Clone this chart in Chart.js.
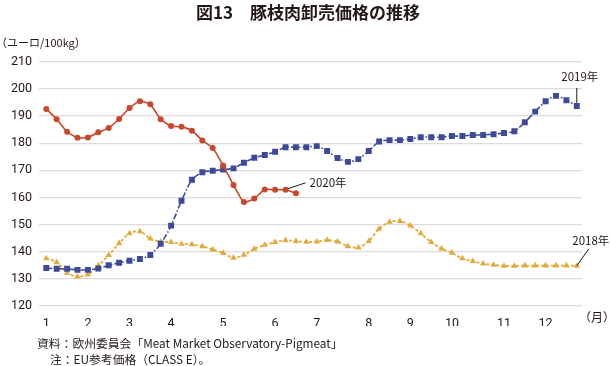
<!DOCTYPE html>
<html><head><meta charset="utf-8">
<script src="https://cdn.jsdelivr.net/npm/chart.js@4/dist/chart.umd.min.js"></script>
<style>
html,body{margin:0;padding:0;background:#fff;}
#wrap{position:relative;width:610px;height:366px;overflow:hidden;font-family:"Noto Sans CJK JP","Noto Sans",sans-serif;color:#231815;}
#c{position:absolute;left:0;top:0;}
.t{position:absolute;white-space:nowrap;}
#title{left:3px;width:610px;top:0px;text-align:center;font-size:17px;font-weight:bold;line-height:24px;}
#unit{left:-4px;top:33px;font-size:11px;line-height:18px;}
#month{left:579px;top:308px;font-size:12px;line-height:18px;}
#note1{left:37px;top:334px;font-size:11.8px;line-height:17px;}
#note2{left:50px;top:350px;font-size:11.8px;line-height:17px;}
</style></head>
<body><div id="wrap">
<canvas id="c" width="610" height="366"></canvas>
<div class="t" id="title">図13　豚枝肉卸売価格の推移</div>
<div class="t" id="unit">（ユーロ/100kg）</div>
<div class="t" id="month">（月）</div>
<div class="t" id="note1">資料：欧州委員会「Meat Market Observatory-Pigmeat」</div>
<div class="t" id="note2">注：EU参考価格（CLASS E）。</div>
</div>
<script>
// weekly prices (EUR/100kg), index 0 = week 1
const series2020 = [192.6,188.8,184.2,182.0,182.1,184.0,185.6,188.9,192.9,195.4,194.3,188.8,186.3,186.0,184.6,181.0,178.2,171.8,164.6,158.3,159.6,162.9,162.8,162.8,161.5];
const series2019 = [134.0,133.7,133.7,133.3,133.3,133.8,135.0,135.9,136.7,137.3,138.8,142.9,149.6,158.8,166.5,169.3,169.8,170.3,170.7,172.8,174.6,175.6,176.8,178.5,178.5,178.5,178.9,177.1,174.5,173.1,174.1,177.1,180.6,181.1,181.1,181.5,182.2,182.2,182.2,182.6,182.6,183.0,183.0,183.3,183.7,184.4,187.7,191.6,195.4,197.4,195.8,193.7];
const series2018 = [137.5,136.1,132.2,130.8,131.6,134.9,138.7,143.1,146.7,147.5,144.8,143.7,143.5,142.9,142.7,142.0,140.8,139.5,137.7,138.8,141.0,142.5,143.5,144.2,143.9,143.6,143.7,144.3,143.7,142.0,141.5,143.9,148.4,151.0,151.3,149.6,146.7,143.5,141.1,139.6,137.5,136.5,135.6,135.1,134.8,134.8,134.9,134.9,134.9,134.9,134.9,134.8];
const monthTickIdx = [0,4,8,12,17,22,26,31,35,39,44,48];
const monthLabels = ['1','2','3','4','5','6','7','8','9','10','11','12'];
const yTicks = [120,130,140,150,160,170,180,190,200,210];
const seriesNames = ['2020年','2019年','2018年'];

const RED='#C9472B', BLUE='#3D4A99', GOLD='#E2A93B';
const toXY = arr => arr.map((v,i)=>({x:i,y:v}));

const annot = {
  id:'annot',
  afterDatasetsDraw(chart){
    const {ctx, scales:{x,y}} = chart;
    ctx.save();
    ctx.strokeStyle='#231815'; ctx.lineWidth=1; ctx.fillStyle='#231815';
    ctx.font='11.5px "Noto Sans CJK JP", sans-serif';
    ctx.textBaseline='middle';
    // 2020
    let i=23, px=x.getPixelForValue(i), py=y.getPixelForValue(series2020[i]);
    ctx.beginPath(); ctx.moveTo(px+2,py-1); ctx.lineTo(px+20,py-7); ctx.stroke();
    ctx.textAlign='left'; ctx.fillText(seriesNames[0], px+24, py-7);
    // 2019
    i=series2019.length-1; px=x.getPixelForValue(i); py=y.getPixelForValue(series2019[i]);
    ctx.beginPath(); ctx.moveTo(px,py-3); ctx.lineTo(px,py-18); ctx.stroke();
    ctx.textAlign='center'; ctx.fillText(seriesNames[1], px+3, py-29);
    // 2018
    i=series2018.length-1; px=x.getPixelForValue(i); py=y.getPixelForValue(series2018[i]);
    ctx.beginPath(); ctx.moveTo(px,py); ctx.lineTo(px+12,py-17); ctx.stroke();
    ctx.textAlign='center'; ctx.fillText(seriesNames[2], px+14, py-25);
    ctx.restore();
  }
};

new Chart(document.getElementById('c'), {
  type:'line',
  data:{ datasets:[
    {label:seriesNames[0], data:toXY(series2020), borderColor:RED, backgroundColor:RED, borderWidth:1.6,
     pointStyle:'circle', pointRadius:3, pointBorderWidth:0, tension:0.2},
    {label:seriesNames[1], data:toXY(series2019), borderColor:BLUE, backgroundColor:BLUE, borderWidth:1.6,
     borderDash:[6,2,1.5,2], pointStyle:'rect', pointRadius:4.2, pointBorderWidth:0, tension:0.25},
    {label:seriesNames[2], data:toXY(series2018), borderColor:GOLD, backgroundColor:GOLD, borderWidth:1.8,
     borderDash:[3,2], pointStyle:'triangle', pointRadius:3.7, pointBorderWidth:0, tension:0.3}
  ]},
  options:{
    responsive:false, animation:false, devicePixelRatio:1,
    layout:{padding:{left:0,right:28,top:61.7,bottom:40}},
    plugins:{legend:{display:false}, tooltip:{enabled:false}},
    scales:{
      x:{type:'linear', min:-0.7, max:51.5,
         grid:{display:false}, border:{display:false},
         afterFit(s){ s.height=20; },
         afterBuildTicks(s){ s.ticks = monthTickIdx.map(v=>({value:v})); },
         ticks:{autoSkip:false, maxRotation:0, padding:2, color:'#231815',
           font:{family:'Roboto', size:12.5},
           callback:(v)=>{ const k=monthTickIdx.indexOf(v); return k>=0?monthLabels[k]:''; }}},
      y:{min:120, max:210,
         afterFit(s){ s.width=39; },
         afterBuildTicks(s){ s.ticks = yTicks.map(v=>({value:v})); },
         grid:{color:'#dcdcdc', lineWidth:1.2, drawTicks:false}, border:{display:false},
         ticks:{padding:7, color:'#231815', font:{family:'Roboto', size:12.5}}}
    }
  },
  plugins:[annot]
});
</script>
</body></html>
